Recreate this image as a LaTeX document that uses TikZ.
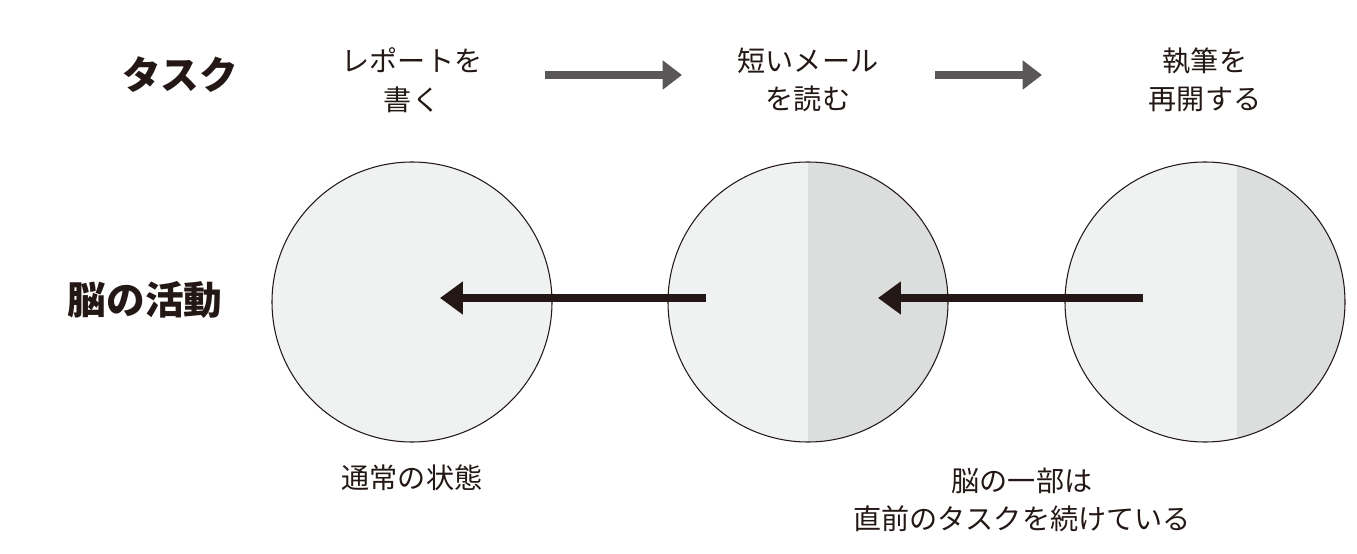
\documentclass[tikz,border=0pt]{standalone}
\usepackage{fontspec}
\setmainfont{Noto Sans CJK JP}
\usetikzlibrary{arrows.meta}
\definecolor{lite}{HTML}{F0F1F1}
\definecolor{dark}{HTML}{DCDDDD}
\definecolor{arrg}{HTML}{595757}
\definecolor{arrk}{HTML}{231815}
\begin{document}
\begin{tikzpicture}[x=0.02cm,y=-0.02cm,
  lbl/.style={font=\fontsize{16}{22}\selectfont,align=center,text=arrk},
  head/.style={font=\fontsize{22}{26}\selectfont\bfseries,text=arrk},
  ga/.style={draw=arrg,line width=4pt,-{Triangle[length=11pt,width=16pt]}},
  ka/.style={draw=arrk,line width=4pt,-{Triangle[length=13pt,width=18pt]}},
  circ/.style={draw=arrk,line width=0.6pt}]
\useasboundingbox (0,0) rectangle (1357,554);
\node[head] (t) at (180,75) {タスク};
\node[head] (b) at (145,300) {脳の活動};
\node[lbl] (l1) at (412,80) {レポートを\\書く};
\node[lbl] (l2) at (808,80) {短いメール\\を読む};
\node[lbl] (l3) at (1205,80) {執筆を\\再開する};
\coordinate (g1s) at (545,75); \coordinate (g1e) at (682,75);
\coordinate (g2s) at (935,75); \coordinate (g2e) at (1042,75);
\draw[ga] (g1s) -- (g1e);
\draw[ga] (g2s) -- (g2e);
% circles
\fill[lite] (412,302) circle (140);
\node[circ,circle,minimum size=280*0.02cm,inner sep=0] (c1) at (412,302) {};
\fill[lite] (808,302) circle (140);
\begin{scope}\clip (808,302) circle (140); \fill[dark] (808,150) rectangle (960,450);\end{scope}
\node[circ,circle,minimum size=280*0.02cm,inner sep=0] (c2) at (808,302) {};
\fill[lite] (1205,302) circle (140);
\begin{scope}\clip (1205,302) circle (140); \fill[dark] (1237,150) rectangle (1360,450);\end{scope}
\node[circ,circle,minimum size=280*0.02cm,inner sep=0] (c3) at (1205,302) {};
\coordinate (a1s) at (706,298); \coordinate (a1e) at (440,298);
\coordinate (a2s) at (1143,298); \coordinate (a2e) at (878,298);
\draw[ka] (a1s) -- (a1e);
\draw[ka] (a2s) -- (a2e);
\node[lbl] (n1) at (412,478) {通常の状態};
\node[lbl] (n2) at (1022,500) {脳の一部は\\直前のタスクを続けている};
\end{tikzpicture}
\end{document}
